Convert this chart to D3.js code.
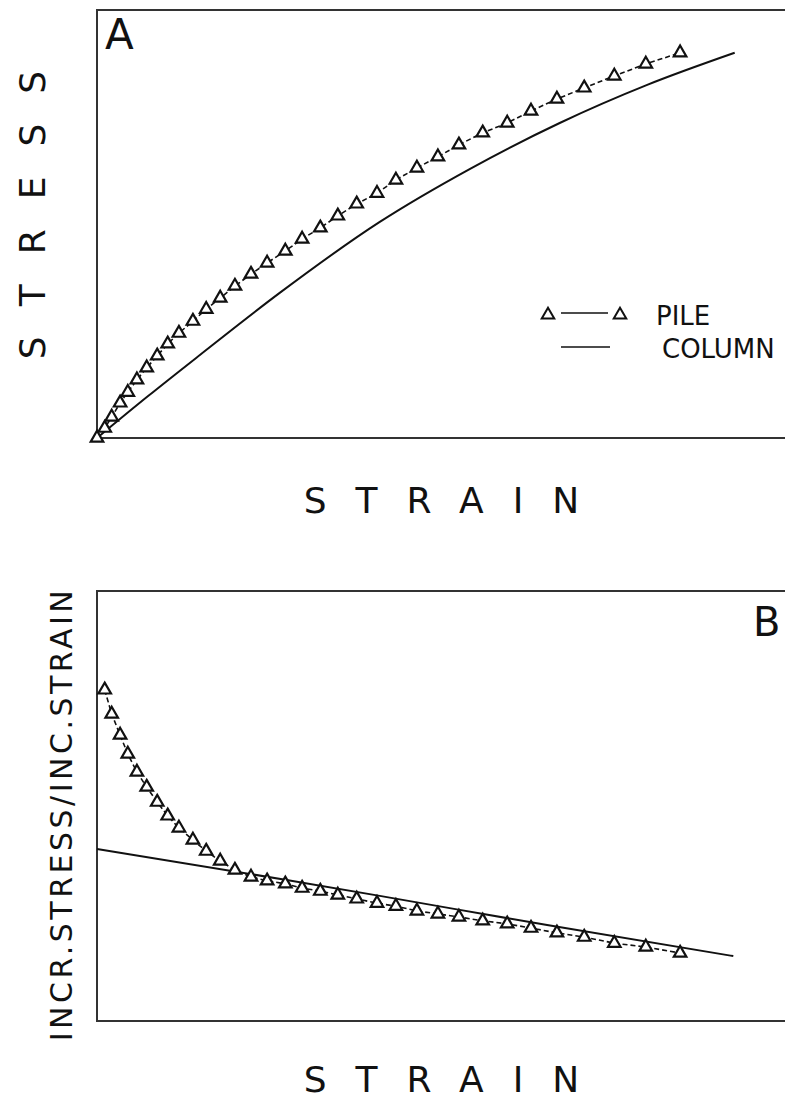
<!DOCTYPE html>
<html>
<head>
<meta charset="utf-8">
<script src="https://cdn.jsdelivr.net/npm/d3@7"></script>
<style>
  body { margin: 0; background: #fff; }
  text { font-family: "DejaVu Sans", sans-serif; fill: #111; }
</style>
</head>
<body>
<div id="chart"></div>
<script>
// strain positions of the pile points (shared by both panels)
var pileStrain = [0, 1.1, 2.1, 3.3, 4.4, 5.7, 7.1, 8.6, 10.1, 11.7, 13.7, 15.6, 17.6, 19.7,
  22.0, 24.3, 26.9, 29.3, 31.9, 34.4, 37.1, 40.0, 42.7, 45.7, 48.7, 51.7, 55.1, 58.6,
  62.0, 65.7, 69.6, 73.9, 78.4, 83.3];
// panel A: stress
var pileStress = [0, 2.3, 4.9, 8.2, 10.7, 13.6, 16.4, 19.2, 22.0, 24.5, 27.3, 30.1, 32.7,
  35.5, 38.3, 40.9, 43.7, 46.5, 49.1, 51.9, 54.7, 57.2, 60.3, 63.1, 65.7, 68.5, 71.3,
  73.6, 76.4, 79.2, 81.8, 84.6, 87.4, 90.0];
var columnStrain = [0, 7.3, 14.7, 26.1, 40.4, 53.3, 66.1, 78.6, 91.1];
var columnStress = [0, 9.8, 19.4, 33.9, 50.5, 62.9, 73.6, 82.5, 90.0];
// panel B: incremental stress / incremental strain (no point at zero strain)
var pileIncr = [77.0, 71.4, 66.5, 62.1, 57.9, 54.4, 50.9, 47.7, 44.9, 42.1, 39.5, 37.2,
  35.1, 33.5, 32.6, 31.9, 30.9, 30.2, 29.3, 28.4, 27.4, 26.7, 25.6, 24.9, 24.2, 23.3,
  22.6, 21.6, 20.5, 19.5, 18.1, 17.2, 15.8];
var columnIncrStrain = [0, 27.1, 40.4, 64.3, 90.9];
var columnIncr = [40.0, 32.8, 29.1, 22.3, 15.1];

var W = 785, H = 1100;
var svg = d3.select("#chart").append("svg")
  .attr("width", W).attr("height", H);

var x = d3.scaleLinear().domain([0, 100]).range([97, 797]);
var yA = d3.scaleLinear().domain([0, 100]).range([438, 10]);
var yB = d3.scaleLinear().domain([0, 100]).range([1021, 591]);

var tri = d3.symbol().type(d3.symbolTriangle).size(68);

function frame(y) {
  svg.append("rect")
    .attr("x", x(0)).attr("y", y(100))
    .attr("width", x(100) - x(0)).attr("height", y(0) - y(100))
    .attr("fill", "none").attr("stroke", "#333").attr("stroke-width", 2);
}

function drawPanel(y, pileX, pileY, colX, colY) {
  frame(y);
  var col = colX.map(function (d, i) { return [d, colY[i]]; });
  svg.append("path")
    .datum(col)
    .attr("fill", "none").attr("stroke", "#111").attr("stroke-width", 2)
    .attr("d", d3.line().curve(d3.curveMonotoneX)
      .x(function (d) { return x(d[0]); })
      .y(function (d) { return y(d[1]); }));

  var pile = pileY.map(function (d, i) { return [pileX[i], d]; });
  svg.append("path")
    .datum(pile)
    .attr("fill", "none").attr("stroke", "#111").attr("stroke-width", 1.6)
    .attr("stroke-dasharray", "5,3")
    .attr("d", d3.line()
      .x(function (d) { return x(d[0]); })
      .y(function (d) { return y(d[1]); }));

  svg.selectAll(null)
    .data(pile)
    .enter()
    .append("path")
    .attr("d", tri)
    .attr("transform", function (d) {
      return "translate(" + x(d[0]) + "," + y(d[1]) + ")";
    })
    .attr("fill", "#fff").attr("stroke", "#111").attr("stroke-width", 2.2);
}

drawPanel(yA, pileStrain, pileStress, columnStrain, columnStress);
drawPanel(yB, pileStrain.slice(1), pileIncr, columnIncrStrain, columnIncr);

// panel letters
svg.append("text").attr("x", 105).attr("y", 49)
  .style("font-size", "42px").text("A");
svg.append("text").attr("x", 753).attr("y", 636)
  .style("font-size", "40px").text("B");

// legend
var leg = svg.append("g");
leg.append("path").attr("d", tri).attr("transform", "translate(548,315)")
  .attr("fill", "#fff").attr("stroke", "#111").attr("stroke-width", 2);
leg.append("path").attr("d", tri).attr("transform", "translate(620,315)")
  .attr("fill", "#fff").attr("stroke", "#111").attr("stroke-width", 2);
leg.append("line").attr("x1", 561).attr("x2", 608).attr("y1", 313).attr("y2", 313)
  .attr("stroke", "#111").attr("stroke-width", 1.5);
leg.append("line").attr("x1", 561).attr("x2", 610).attr("y1", 347).attr("y2", 347)
  .attr("stroke", "#111").attr("stroke-width", 1.5);
leg.append("text").attr("x", 656).attr("y", 325)
  .style("font-size", "26px").text("PILE");
leg.append("text").attr("x", 662).attr("y", 358)
  .style("font-size", "26px").text("COLUMN");

// axis titles
svg.append("text").attr("x", 456).attr("y", 513)
  .attr("text-anchor", "middle").style("font-size", "36px")
  .style("letter-spacing", "29px").text("STRAIN");
svg.append("text").attr("x", 456).attr("y", 1092)
  .attr("text-anchor", "middle").style("font-size", "36px")
  .style("letter-spacing", "29px").text("STRAIN");
svg.append("text")
  .attr("transform", "translate(45,200) rotate(-90)")
  .attr("text-anchor", "middle").style("font-size", "36px")
  .style("letter-spacing", "30px").text("STRESS");
svg.append("text")
  .attr("transform", "translate(72,814) rotate(-90)")
  .attr("text-anchor", "middle").style("font-size", "30px")
  .style("letter-spacing", "3.5px").text("INCR.STRESS/INC.STRAIN");
</script>
</body>
</html>
